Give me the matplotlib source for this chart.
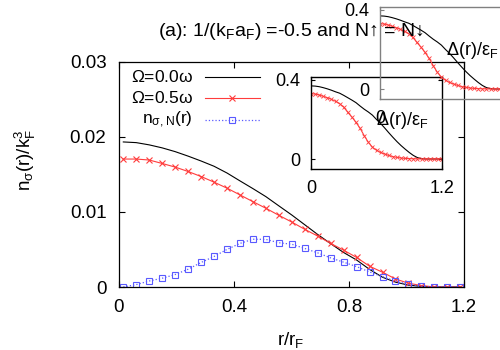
import numpy as np
import matplotlib
matplotlib.use("Agg")
import matplotlib.pyplot as plt

plt.rcParams['font.family'] = ['Liberation Sans', 'DejaVu Sans']
plt.rcParams['mathtext.default'] = 'regular'

# ---------------- data (main panel) ----------------
r_main = np.linspace(0.015, 1.187, 27)
n_omega00 = [0.01934, 0.01925, 0.01895, 0.01855, 0.01805, 0.01745, 0.01680, 0.01610,
             0.01520, 0.01415, 0.01312, 0.01205, 0.01082, 0.00960, 0.00830, 0.00700,
             0.00578, 0.00460, 0.00360, 0.00235, 0.00130, 0.00065, 0.00025, 0.00008,
             0.0, 0.0, 0.0]
n_omega05 = [0.01706, 0.01706, 0.01693, 0.01647, 0.01599, 0.01540, 0.01473, 0.01398,
             0.01318, 0.01228, 0.01138, 0.01050, 0.00956, 0.00866, 0.00769, 0.00679,
             0.00581, 0.00491, 0.00394, 0.00277, 0.00197, 0.00107, 0.00050, 0.00020,
             0.0, 0.0, 0.0]
n_normal = [0.0, 0.00032, 0.00080, 0.00117, 0.00166, 0.00237, 0.00327, 0.00407,
            0.00501, 0.00581, 0.00637, 0.00635, 0.00590, 0.00570, 0.00514, 0.00455,
            0.00388, 0.00331, 0.00272, 0.00200, 0.00138, 0.00078, 0.00034, 0.00011,
            0.0, 0.0, 0.0]

# ---------------- data (inset: gap) ----------------
r_inset = np.linspace(0.0, 1.2, 33)
gap_omega00 = [0.370, 0.369, 0.366, 0.361, 0.355, 0.348, 0.340, 0.333, 0.322, 0.310,
               0.298, 0.285, 0.268, 0.252, 0.238, 0.222, 0.200, 0.180, 0.157, 0.133,
               0.110, 0.088, 0.068, 0.050, 0.033, 0.018, 0.007, 0.002, 0.0, 0.0,
               0.0, 0.0, 0.0]
gap_omega05 = [0.330, 0.329, 0.324, 0.317, 0.310, 0.302, 0.292, 0.280, 0.262, 0.236,
               0.212, 0.185, 0.155, 0.118, 0.085, 0.060, 0.044, 0.033, 0.025, 0.018,
               0.012, 0.008, 0.005, 0.003, 0.002, 0.001, 0.0005, 0.0, 0.0, 0.0,
               0.0, 0.0, 0.0]

x_ticks = [0, 0.4, 0.8, 1.2]
x_ticklabels = ['0', '0.4', '0.8', '1.2']
y_ticks = [0, 0.01, 0.02, 0.03]
y_ticklabels = ['0', '0.01', '0.02', '0.03']
legend_labels = [r'$\Omega$=0.0$\omega$', r'$\Omega$=0.5$\omega$', r'n$_{\sigma,N}$(r)']

RED = '#ff3c3c'
BLUE = '#5a5aff'

W, H = 500, 350
fig = plt.figure(figsize=(5, 3.5), dpi=100)

def px_axes(l, t, r, b):
    return fig.add_axes([l / W, 1 - b / H, (r - l) / W, (b - t) / H])

# ---------------- main axes ----------------
ax = px_axes(119, 62, 464, 287)
ax.plot(r_main, n_omega00, color='black', lw=0.8)
ax.plot(r_main, n_omega05, color=RED, lw=0.8, marker='x', ms=4, mew=0.8)
ax.plot(r_main, n_normal, color=BLUE, lw=0.9, ls=':', marker='s', ms=4,
        mfc='none', mew=0.8)
ax.set_xlim(0, 1.2)
ax.set_ylim(0, 0.03)
ax.set_xticks(x_ticks)
ax.set_xticklabels(x_ticklabels)
ax.set_yticks(y_ticks)
ax.set_yticklabels(y_ticklabels)
ax.tick_params(direction='in', top=True, right=True, length=4, width=0.8,
               labelsize=13.5)
ax.tick_params(axis='x', pad=9)
ax.tick_params(axis='y', pad=9)
for s in ax.spines.values():
    s.set_linewidth(0.9)

# legend (gnuplot style: right aligned text, sample to the right)
leg_y = [77, 98.5, 120]
leg_styles = [dict(color='black', lw=0.8),
              dict(color=RED, lw=0.8),
              dict(color=BLUE, lw=0.9, ls=':')]
leg_markers = [None, dict(marker='x', ms=4, mew=0.8, color=RED),
               dict(marker='s', ms=4, mew=0.8, mfc='none', color=BLUE)]
for lab, yy, st, mk in zip(legend_labels, leg_y, leg_styles, leg_markers):
    ya = (287 - yy) / 225
    ax.text((193 - 119) / 345, ya, lab, transform=ax.transAxes, ha='right',
            va='center', fontsize=12.5)
    ax.plot([(205 - 119) / 345, (260 - 119) / 345], [ya, ya],
            transform=ax.transAxes, clip_on=False, **st)
    if mk is not None:
        ax.plot([(232 - 119) / 345], [ya], transform=ax.transAxes,
                clip_on=False, ls='none', **mk)

fig.text(25 / W, 1 - 160 / H, r'n$_\sigma$(r)/k$_F^3$', rotation=90,
         ha='center', va='center', fontsize=13.5)
fig.text(291 / W, 1 - 340 / H, r'r/r$_F$', ha='center', va='center',
         fontsize=13.5)
fig.text(291 / W, 1 - 31 / H, r'(a): 1/(k$_F$a$_F$) =-0.5 and N↑ = N↓',
         ha='center', va='center', fontsize=14)

# ---------------- insets ----------------
def make_inset(l, t, frame_color):
    a = px_axes(l, t, l + 131, t + 92)
    a.patch.set_alpha(0)
    a.plot(r_inset, gap_omega00, color='black', lw=0.8)
    a.plot(r_inset, gap_omega05, color=RED, lw=0.8, marker='x', ms=3, mew=0.6)
    a.set_xlim(0, 1.2)
    a.set_ylim(-0.0506, 0.415)
    a.set_xticks([0, 1.2])
    a.set_xticklabels(['0', '1.2'])
    a.set_yticks([0, 0.4])
    a.set_yticklabels(['0', '0.4'])
    a.tick_params(direction='in', top=True, right=True, length=3, width=0.8,
                  labelsize=13, pad=8, color=frame_color)
    for s in a.spines.values():
        s.set_color(frame_color)
        s.set_linewidth(1.0)
    a.text(0.5, 0.53, r'$\Delta$(r)/$\varepsilon_F$', transform=a.transAxes,
           ha='left', va='center', fontsize=13)
    return a

make_inset(311, 77, 'black')
make_inset(380, 7, '#808080')

fig.savefig('out.png', dpi=100)
